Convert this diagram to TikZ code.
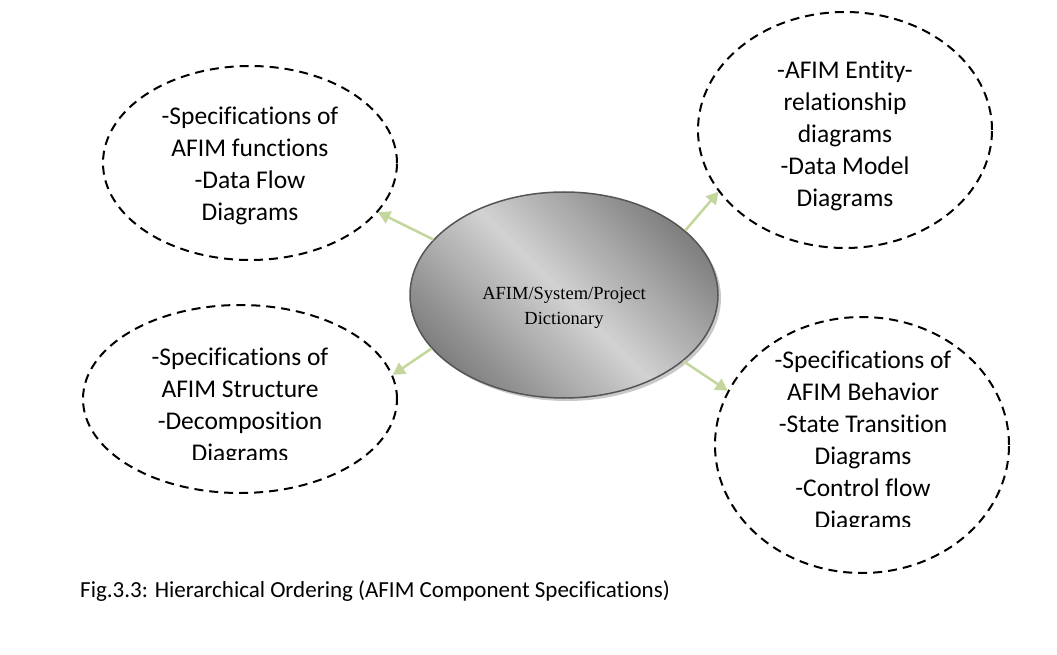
\documentclass[tikz,border=0pt]{standalone}
\usepackage{fontspec}
\setmainfont[Ligatures=NoCommon]{Carlito}
\newfontfamily\timesf{Liberation Serif}
\usetikzlibrary{arrows.meta,shapes.geometric,shadows}
\definecolor{arrowgreen}{RGB}{195,214,155}
\definecolor{shdark}{RGB}{128,128,128}
\definecolor{shlight}{RGB}{210,210,210}
\definecolor{rimgray}{RGB}{85,85,85}
\begin{document}
\begin{tikzpicture}[x=1pt,y=-1pt,
  dashell/.style={ellipse, draw=black, line width=2pt, dash pattern=on 9pt off 6pt, inner sep=0pt},
  lbl/.style={align=center, font=\fontsize{25.5}{32}\selectfont, text=black, inner sep=0pt},
  conn/.style={draw=arrowgreen, line width=2.5pt, -{Triangle[length=12pt,width=13pt]}}]
\useasboundingbox[fill=white] (0,0) rectangle (1057,655);

% outer dashed ellipses
\node[dashell, minimum width=294pt, minimum height=194pt] (tl) at (250,163) {};
\node[dashell, minimum width=294pt, minimum height=236pt] (tr) at (845,130) {};
\node[dashell, minimum width=314pt, minimum height=188pt] (bl) at (240,399) {};
\node[dashell, minimum width=294pt, minimum height=256pt] (br) at (862,445) {};

% centre ellipse
\node[ellipse, minimum width=308pt, minimum height=206pt, inner sep=0pt,
      draw=rimgray, line width=1.5pt,
      top color=shdark, bottom color=shdark, middle color=shlight, shading angle=135,
      drop shadow={shadow xshift=3pt, shadow yshift=-3pt, fill=gray!70, opacity=0.6}] (c) at (564,295) {};
\node[font=\timesf\fontsize{18.5}{25}\selectfont, align=center, inner sep=0pt] (ct) at (564,308) {AFIM/System/Project\\Dictionary};

% texts
\node[lbl] (tltxt) at (250,166) {-Specifications of\\AFIM functions\\-Data Flow\\Diagrams};
\node[lbl] (trtxt) at (845,136) {-AFIM Entity-\\relationship\\diagrams\\-Data Model\\Diagrams};
\begin{scope}
  \clip (0,0) rectangle (1057,459);
  \node[lbl] (bltxt) at (240,407) {-Specifications of\\AFIM Structure\\-Decomposition\\Diagrams};
\end{scope}
\begin{scope}
  \clip (0,0) rectangle (1057,526);
  \node[lbl] (brtxt) at (863,442) {-Specifications of\\AFIM Behavior\\-State Transition\\Diagrams\\-Control flow\\Diagrams};
\end{scope}

% connectors
\draw[conn] (c.157.7) -- (tl.339.3);
\draw[conn] (c.28.8) -- (tr.206.2);
\draw[conn] (c.202.7) -- (bl.9);
\draw[conn] (c.331.3) -- (br.158.9);

% caption
\node[anchor=west, font=\fontsize{23}{27}\selectfont, inner sep=0pt] (cap) at (80,591) {Fig.3.3: Hierarchical Ordering (AFIM Component Specifications)};
\end{tikzpicture}
\end{document}
